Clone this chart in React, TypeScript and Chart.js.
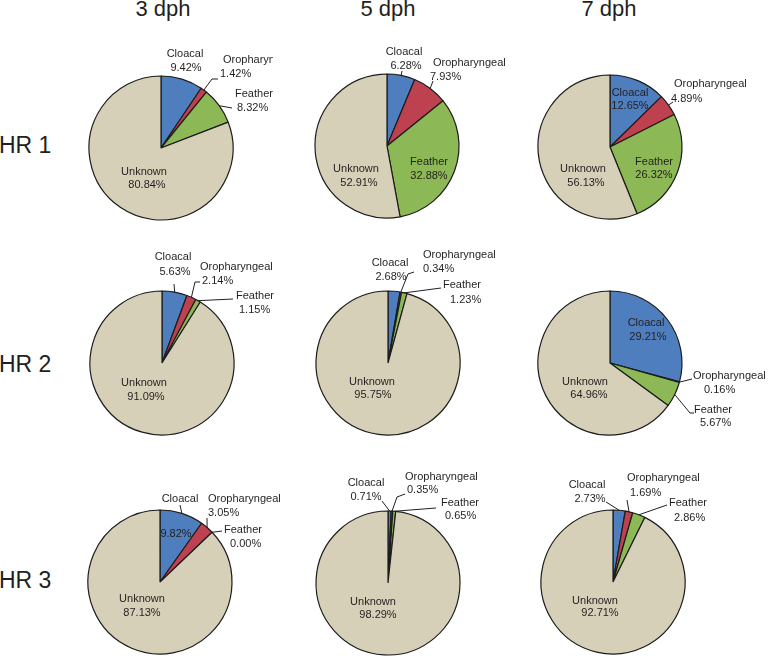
import React, { useEffect, useRef } from "react";
import { Chart, registerables } from "chart.js";

Chart.register(...registerables);

// ---------------- data ----------------
const categories = ["Cloacal", "Oropharyngeal", "Feather", "Unknown"];
const timePoints = ["3 dph", "5 dph", "7 dph"];
const replicates = ["HR 1", "HR 2", "HR 3"];

const hr1_3dph = [9.42, 1.42, 8.32, 80.84];
const hr1_5dph = [6.28, 7.93, 32.88, 52.91];
const hr1_7dph = [12.65, 4.89, 26.32, 56.13];
const hr2_3dph = [5.63, 2.14, 1.15, 91.09];
const hr2_5dph = [2.68, 0.34, 1.23, 95.75];
const hr2_7dph = [29.21, 0.16, 5.67, 64.96];
const hr3_3dph = [9.82, 3.05, 0.0, 87.13];
const hr3_5dph = [0.71, 0.35, 0.65, 98.29];
const hr3_7dph = [2.73, 1.69, 2.86, 92.71];

const grid = [
  [hr1_3dph, hr1_5dph, hr1_7dph],
  [hr2_3dph, hr2_5dph, hr2_7dph],
  [hr3_3dph, hr3_5dph, hr3_7dph],
];

// ---------------- styles / layout ----------------
const sliceColors = ["#4F7EBF", "#BE4150", "#8CB955", "#D7D0B8"];
const TEXT = "#231f20";
const FONT = '"Liberation Sans", Arial, Helvetica, sans-serif';
const W = 320;
const H = 250;
const R = 72;

type Pt = [number, number];
type Lbl = { l1: Pt; l2: Pt; align: "left" | "center"; leader?: Pt[] };
type PieLayout = { center: Pt; clipRight?: number; labels: Lbl[] };

const headerX = [163, 388, 609];
const rowBaseline = [153.5, 372, 588.5];

const layouts: PieLayout[][] = [
  [
    {
      center: [161, 148],
      clipRight: 273,
      labels: [
        { l1: [185, 54], l2: [186, 68], align: "center" },
        { l1: [223, 60], l2: [220, 74], align: "left", leader: [[212, 79], [218, 79]] },
        { l1: [235, 94], l2: [237, 108], align: "left", leader: [[232, 108]] },
        { l1: [144, 172], l2: [147, 185], align: "center" },
      ],
    },
    {
      center: [387, 146],
      labels: [
        { l1: [404, 52], l2: [406, 66], align: "center", leader: [[402, 71]] },
        { l1: [433, 63], l2: [430, 77], align: "left", leader: [[433, 81]] },
        { l1: [429, 162], l2: [429, 176], align: "center" },
        { l1: [356, 169], l2: [359, 183], align: "center" },
      ],
    },
    {
      center: [610, 147],
      labels: [
        { l1: [630, 93], l2: [630, 106], align: "center" },
        { l1: [674, 84], l2: [671, 99], align: "left", leader: [[673, 102]] },
        { l1: [654, 162], l2: [654, 175], align: "center" },
        { l1: [583, 169], l2: [586, 183], align: "center" },
      ],
    },
  ],
  [
    {
      center: [162, 363],
      labels: [
        { l1: [173, 257], l2: [175, 272], align: "center", leader: [[174, 284]] },
        { l1: [200, 267], l2: [202, 281], align: "left", leader: [[195, 282], [200, 282]] },
        { l1: [236, 296], l2: [239, 310], align: "left", leader: [[233, 299]] },
        { l1: [144, 383], l2: [146, 397], align: "center" },
      ],
    },
    {
      center: [388, 363],
      labels: [
        { l1: [390, 263], l2: [391, 277], align: "center" },
        { l1: [423, 255], l2: [423, 269], align: "left", leader: [[408, 274], [414, 272]] },
        { l1: [443, 285], l2: [450, 300], align: "left", leader: [[441, 288]] },
        { l1: [372, 382], l2: [373, 395], align: "center" },
      ],
    },
    {
      center: [610, 363],
      labels: [
        { l1: [646, 323], l2: [648, 337], align: "center" },
        { l1: [693, 376], l2: [704, 390], align: "left", leader: [[692, 379]] },
        { l1: [694, 410], l2: [700, 423], align: "left", leader: [[690, 413], [694, 413]] },
        { l1: [585, 382], l2: [589, 395], align: "center" },
      ],
    },
  ],
  [
    {
      center: [160, 582],
      labels: [
        { l1: [180, 499], l2: [176, 534], align: "center", leader: [[180, 505]] },
        { l1: [208, 499], l2: [208, 513], align: "left", leader: [[207, 518]] },
        { l1: [224, 530], l2: [230, 544], align: "left", leader: [[222, 531]] },
        { l1: [142, 599], l2: [142, 613], align: "center" },
      ],
    },
    {
      center: [388, 583],
      labels: [
        { l1: [366, 483], l2: [366, 497], align: "center", leader: [[382, 501]] },
        { l1: [405, 477], l2: [407, 490], align: "left", leader: [[397, 497], [405, 494]] },
        { l1: [441, 503], l2: [445, 516], align: "left", leader: [[436, 508]] },
        { l1: [373, 602], l2: [378, 615], align: "center" },
      ],
    },
    {
      center: [613, 582],
      labels: [
        { l1: [587, 485], l2: [590, 499], align: "center", leader: [[606, 502]] },
        { l1: [627, 478], l2: [630, 493], align: "left", leader: [[627, 500]] },
        { l1: [669, 503], l2: [674, 518], align: "left", leader: [[667, 505]] },
        { l1: [595, 601], l2: [600, 613], align: "center" },
      ],
    },
  ],
];

// label plugin: draws the category / percentage text and leader lines
const pieLabelPlugin = {
  id: "pieLabels",
  afterDraw(chart: any, _args: any, opts: any) {
    const { ctx } = chart;
    const [ox, oy] = opts.origin as Pt;
    const labels = opts.labels as Lbl[];
    const values = chart.data.datasets[0].data as number[];
    const names = chart.data.labels as string[];
    const meta = chart.getDatasetMeta(0);
    ctx.save();
    ctx.strokeStyle = TEXT;
    ctx.lineWidth = 1;
    ctx.fillStyle = TEXT;
    ctx.font = `11px ${FONT}`;
    ctx.textBaseline = "middle";
    labels.forEach((lb, i) => {
      const arc = meta.data[i] as any;
      if (lb.leader && arc) {
        const mid = (arc.startAngle + arc.endAngle) / 2;
        const sx = arc.x + arc.outerRadius * Math.cos(mid);
        const sy = arc.y + arc.outerRadius * Math.sin(mid);
        ctx.beginPath();
        ctx.moveTo(sx, sy);
        lb.leader.forEach(([px, py]) => ctx.lineTo(px - ox, py - oy));
        ctx.stroke();
      }
      ctx.textAlign = lb.align;
      ctx.fillText(names[i], lb.l1[0] - ox, lb.l1[1] - oy);
      ctx.fillText(`${values[i].toFixed(2)}%`, lb.l2[0] - ox, lb.l2[1] - oy);
    });
    ctx.restore();
  },
};

function Pie({ values, layout }: { values: number[]; layout: PieLayout }) {
  const ref = useRef<HTMLCanvasElement | null>(null);
  const left = layout.center[0] - W / 2;
  const top = layout.center[1] - H / 2;
  useEffect(() => {
    if (!ref.current) return;
    const chart = new Chart(ref.current, {
      type: "pie",
      data: {
        labels: categories,
        datasets: [
          {
            data: values,
            backgroundColor: sliceColors,
            borderColor: "#1c1c1c",
            borderWidth: 1.2,
          },
        ],
      },
      options: {
        responsive: false,
        animation: false,
        radius: R,
        events: [],
        layout: { padding: 0 },
        plugins: {
          legend: { display: false },
          tooltip: { enabled: false },
          pieLabels: { origin: [left, top], labels: layout.labels },
        } as any,
      } as any,
      plugins: [pieLabelPlugin],
    });
    return () => chart.destroy();
  }, [values, layout]);
  const clipW = layout.clipRight ? layout.clipRight - left : W;
  return (
    <div style={{ position: "absolute", left, top, width: clipW, height: H, overflow: "hidden" }}>
      <canvas ref={ref} width={W} height={H} style={{ width: W, height: H, display: "block" }} />
    </div>
  );
}

export default function App() {
  return (
    <div
      style={{
        position: "absolute",
        left: 0,
        top: 0,
        width: 777,
        height: 656,
        overflow: "hidden",
        background: "#ffffff",
        fontFamily: FONT,
        color: TEXT,
      }}
    >
      {timePoints.map((t, i) => (
        <div
          key={t}
          style={{
            position: "absolute",
            left: headerX[i] - 60,
            width: 120,
            top: -1.6,
            textAlign: "center",
            fontSize: 22,
            lineHeight: "22px",
            whiteSpace: "nowrap",
          }}
        >
          {t}
        </div>
      ))}
      {replicates.map((r, i) => (
        <div
          key={r}
          style={{
            position: "absolute",
            left: -1,
            top: rowBaseline[i] - 19.5,
            fontSize: 23,
            lineHeight: "23px",
            whiteSpace: "nowrap",
          }}
        >
          {r}
        </div>
      ))}
      {grid.map((row, ri) =>
        row.map((vals, ci) => <Pie key={`${ri}-${ci}`} values={vals} layout={layouts[ri][ci]} />)
      )}
    </div>
  );
}
